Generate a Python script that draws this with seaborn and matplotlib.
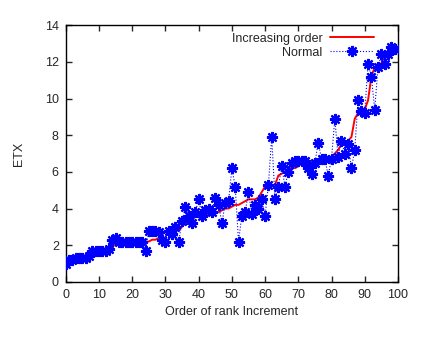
import numpy as np
import pandas as pd
import matplotlib
matplotlib.use("Agg")
import matplotlib.pyplot as plt
import seaborn as sns

rank = list(range(100))

normal = [1.0, 1.2, 1.2, 1.3, 1.3, 1.3, 1.3, 1.4, 1.7, 1.7,
          1.7, 1.7, 1.7, 1.8, 2.3, 2.4, 2.2, 2.2, 2.2, 2.2,
          2.2, 2.2, 2.2, 2.2, 1.7, 2.8, 2.8, 2.8, 2.7, 2.3,
          2.2, 2.8, 2.6, 3.0, 2.2, 3.3, 4.1, 3.6, 3.2, 3.8,
          4.5, 3.6, 3.9, 4.0, 3.8, 4.6, 4.2, 3.2, 4.3, 4.4,
          6.2, 5.2, 2.2, 3.6, 3.8, 4.9, 3.7, 4.2, 4.0, 4.5,
          3.6, 5.3, 7.9, 4.5, 5.2, 6.3, 5.2, 6.0, 6.5, 6.6,
          6.6, 6.6, 6.6, 6.2, 5.9, 6.5, 7.6, 6.7, 6.7, 5.8,
          6.7, 8.9, 6.8, 7.7, 7.0, 7.5, 6.2, 7.2, 9.9, 9.3,
          9.2, 11.9, 11.2, 9.4, 11.7, 12.4, 11.9, 12.4, 12.8, 12.7]

increasing = [1.0, 1.2, 1.2, 1.3, 1.3, 1.3, 1.3, 1.4, 1.7, 1.7,
              1.7, 1.7, 1.7, 1.7, 1.8, 2.2, 2.2, 2.2, 2.2, 2.2,
              2.2, 2.2, 2.2, 2.2, 2.2, 2.2, 2.3, 2.3, 2.4, 2.6,
              2.7, 2.8, 2.8, 2.8, 2.8, 3.0, 3.2, 3.2, 3.3, 3.6,
              3.6, 3.6, 3.6, 3.7, 3.8, 3.8, 3.8, 3.9, 4.0, 4.0,
              4.1, 4.2, 4.2, 4.3, 4.4, 4.5, 4.5, 4.5, 4.6, 4.9,
              5.2, 5.2, 5.2, 5.3, 5.8, 5.9, 6.0, 6.2, 6.2, 6.2,
              6.3, 6.5, 6.5, 6.6, 6.6, 6.6, 6.6, 6.7, 6.7, 6.7,
              6.8, 7.0, 7.2, 7.5, 7.6, 7.7, 7.9, 8.9, 9.2, 9.3,
              9.4, 9.9, 11.2, 11.7, 11.9, 11.9, 12.4, 12.4, 12.7, 12.8]

xticks = list(range(0, 101, 10))
yticks = list(range(0, 15, 2))

df = pd.DataFrame({"rank": rank, "normal": normal, "increasing": increasing})

sns.set_style("ticks")
plt.rcParams["font.family"] = ["Liberation Sans", "DejaVu Sans"]

fig = plt.figure(figsize=(4.33, 3.40), dpi=100)
ax = fig.add_axes([0.152, 0.171, 0.767, 0.755])

sns.lineplot(data=df, x="rank", y="increasing", ax=ax, color="#ff0000",
             linewidth=1.4, label="Increasing order", zorder=2)
sns.lineplot(data=df, x="rank", y="normal", ax=ax, color="#0000ff",
             linewidth=0.8, linestyle=":", marker=(8, 2, 0), markersize=8,
             markeredgewidth=1.6, markeredgecolor="#0000ff",
             label="Normal", zorder=3)

ax.set_xlim(0, 100)
ax.set_ylim(0, 14)
ax.set_xticks(xticks)
ax.set_yticks(yticks)
ax.tick_params(direction="in", length=4, width=1, top=True, right=True,
               labelsize=9, pad=5)
for s in ax.spines.values():
    s.set_linewidth(1.0)
    s.set_color("black")

ax.set_xlabel("Order of rank Increment", fontsize=9, labelpad=4)
ax.set_ylabel("ETX", fontsize=9, labelpad=14)

leg = ax.legend(loc="upper right", bbox_to_anchor=(0.95, 1.0), frameon=False,
                markerfirst=False, fontsize=9, handlelength=3.5,
                labelspacing=0.15, borderaxespad=0.2, handletextpad=0.6)

fig.savefig("out.png", dpi=100)
